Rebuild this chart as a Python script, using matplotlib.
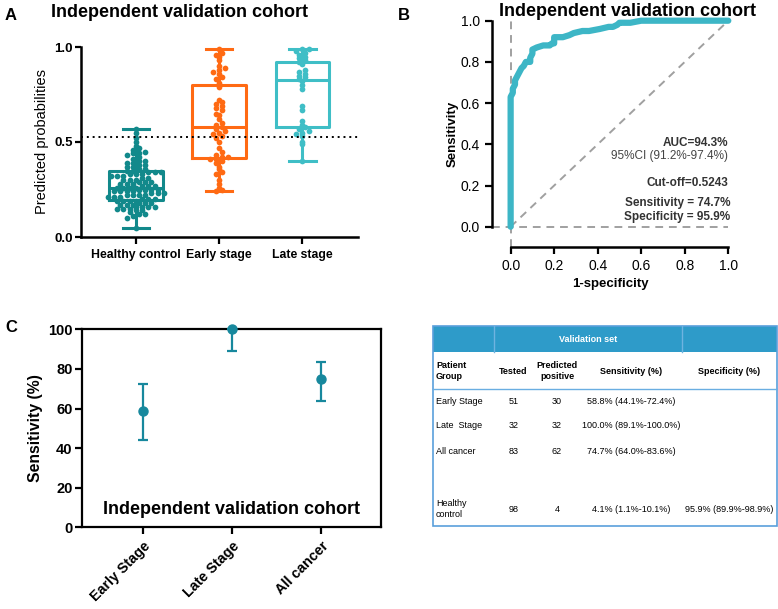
import numpy as np
import matplotlib
matplotlib.use("Agg")
import matplotlib.pyplot as plt
from matplotlib.patches import Rectangle

plt.rcParams['font.family'] = ['Liberation Sans', 'DejaVu Sans']

# panel A - predicted probabilities per group
groups = ["Healthy control", "Early stage", "Late stage"]
healthy = [0.05, 0.10, 0.11, 0.12, 0.12, 0.13, 0.14, 0.14, 0.15, 0.15, 0.15, 0.16, 0.16, 0.16, 0.16,
           0.17, 0.17, 0.17, 0.18, 0.18, 0.18, 0.19, 0.19, 0.19, 0.19,
           0.20, 0.20, 0.20, 0.21, 0.21, 0.21, 0.22, 0.22, 0.22, 0.22, 0.23, 0.23, 0.23, 0.24, 0.24,
           0.24, 0.24, 0.25, 0.25, 0.25, 0.25, 0.26, 0.26, 0.26,
           0.26, 0.27, 0.27, 0.27, 0.28, 0.28, 0.28, 0.29, 0.29, 0.29, 0.30, 0.30, 0.30, 0.31, 0.31,
           0.32, 0.32, 0.32, 0.33, 0.33, 0.33, 0.34, 0.34, 0.34,
           0.35, 0.35, 0.36, 0.36, 0.37, 0.37, 0.38, 0.38, 0.39, 0.39, 0.40, 0.40, 0.41, 0.42, 0.43,
           0.44, 0.44, 0.45, 0.46, 0.47, 0.48, 0.50, 0.52, 0.55, 0.57]
early = [0.24, 0.25, 0.26, 0.28, 0.30, 0.33, 0.34, 0.36, 0.37, 0.39, 0.40, 0.41, 0.41,
         0.42, 0.42, 0.43, 0.45, 0.47, 0.50, 0.52, 0.53, 0.54, 0.55, 0.56, 0.57,
         0.58,
         0.59, 0.60, 0.62, 0.64, 0.65, 0.67, 0.68, 0.69, 0.70, 0.71, 0.72, 0.79,
         0.81, 0.83, 0.84, 0.86, 0.87, 0.88, 0.89, 0.90, 0.93, 0.95, 0.96, 0.97, 0.99]
late = [0.40, 0.49, 0.50, 0.53, 0.54, 0.55, 0.56, 0.57, 0.58, 0.59, 0.61, 0.67, 0.69, 0.78, 0.80, 0.82,
        0.83, 0.84, 0.85, 0.86, 0.87, 0.88, 0.91, 0.92, 0.93, 0.94, 0.95, 0.96, 0.97, 0.98, 0.99, 0.99]
cutoff = 0.5243
group_colors = ["#12898b", "#ff6a13", "#3fbec6"]

# panel B - ROC curve
fpr = [0.0, 0.0, 0.01, 0.01, 0.02, 0.02, 0.03, 0.04, 0.05, 0.06, 0.07, 0.09, 0.09, 0.10, 0.10,
       0.12, 0.15, 0.18, 0.19, 0.20, 0.20, 0.24, 0.27, 0.29, 0.33, 0.36, 0.41, 0.45, 0.47, 0.49, 0.50,
       0.55, 0.60, 0.62, 0.80, 1.0]
tpr = [0.0, 0.63, 0.65, 0.67, 0.69, 0.71, 0.73, 0.75, 0.77, 0.78, 0.80, 0.80, 0.82, 0.84, 0.86,
       0.87, 0.88, 0.88, 0.89, 0.89, 0.92, 0.92, 0.93, 0.94, 0.95, 0.95, 0.96, 0.97, 0.97, 0.98, 0.99,
       0.99, 1.0, 1.0, 1.0, 1.0]

# panel C - sensitivity with 95% CI
stages = ["Early Stage", "Late Stage", "All cancer"]
sens = [58.8, 100.0, 74.7]
sens_lo = [44.1, 89.1, 64.0]
sens_hi = [72.4, 100.0, 83.6]

# table
col_names = ["Patient\nGroup", "Tested", "Predicted\npositive", "Sensitivity (%)", "Specificity (%)"]
rows = [
    ["Early Stage", "51", "30", "58.8% (44.1%-72.4%)", ""],
    ["Late  Stage", "32", "32", "100.0% (89.1%-100.0%)", ""],
    ["All cancer", "83", "62", "74.7% (64.0%-83.6%)", ""],
    ["Healthy\ncontrol", "98", "4", "4.1% (1.1%-10.1%)", "95.9% (89.9%-98.9%)"],
]

title = "Independent validation cohort"


def swarm_x(values, center, dy=0.022, dx=0.075):
    v = np.asarray(values)
    bins = np.round(v / dy).astype(int)
    xs = np.zeros(len(v))
    for b in np.unique(bins):
        idx = np.where(bins == b)[0]
        n = len(idx)
        xs[idx] = center + (np.arange(n) - (n - 1) / 2) * dx
    return xs


fig = plt.figure(figsize=(7.78, 6.09), dpi=100)

# overlay for panel letters, titles and the table
ov = fig.add_axes([0, 0, 1, 1])
ov.set_xlim(0, 778)
ov.set_ylim(609, 0)
ov.axis('off')
for letter, (lx, ly) in zip("ABC", [(5, 16), (398, 16), (5, 328)]):
    ov.text(lx, ly, letter, fontsize=12, fontweight='bold', va='center')
ov.text(179.5, 12.5, title, fontsize=13, fontweight='bold', ha='center', va='center')
ov.text(627.5, 12, title, fontsize=13, fontweight='bold', ha='center', va='center')

# ---------- A ----------
axA = fig.add_axes([81 / 778, 1 - 237 / 609, 277 / 778, 190 / 609])
data = [healthy, early, late]
bp = axA.boxplot(data, positions=[0, 1, 2], widths=0.64, whis=(0, 100), showfliers=False)
for i, c in enumerate(group_colors):
    for key in ["boxes", "medians"]:
        bp[key][i].set(color=c, linewidth=2.2)
    for j in (2 * i, 2 * i + 1):
        bp["whiskers"][j].set(color=c, linewidth=2.2)
        bp["caps"][j].set(color=c, linewidth=2.2)
    axA.scatter(swarm_x(data[i], i), data[i], s=17, color=c, zorder=3, clip_on=False, linewidths=0)
axA.axhline(cutoff, ls=(0, (1, 2)), color='black', lw=1.4, zorder=4)
axA.set_xlim(-0.66, 2.67)
axA.set_ylim(0, 1.0)
axA.set_yticks([0, 0.5, 1.0])
axA.set_yticklabels(["0.0", "0.5", "1.0"])
axA.set_xticks([0, 1, 2])
axA.set_xticklabels(groups)
axA.spines[['top', 'right']].set_visible(False)
axA.spines[['left', 'bottom']].set_linewidth(1.8)
axA.tick_params(width=1.6, length=5)
axA.tick_params(axis='y', labelsize=9.5, length=4, pad=2)
axA.tick_params(axis='x', labelsize=8.8)
for t in axA.get_xticklabels() + axA.get_yticklabels():
    t.set_fontweight('bold')
axA.set_ylabel("Predicted probabilities", fontsize=10.5, labelpad=4)

# ---------- B ----------
axB = fig.add_axes([491.7 / 778, 1 - 246.7 / 609, 236.6 / 778, 226 / 609])
axB.plot([0, 1], [0, 1], ls=(0, (4, 3)), color='#a0a0a0', lw=1.4)
axB.axhline(0, ls=(0, (4, 3)), color='#a0a0a0', lw=1.4)
axB.axvline(0, ls=(0, (4, 3)), color='#a0a0a0', lw=1.4)
axB.plot(fpr, tpr, color='#3db6c6', lw=4.5, solid_joinstyle='round', solid_capstyle='round',
         clip_on=False, zorder=3)
axB.set_xlim(-0.087, 1.0)
axB.set_ylim(-0.097, 1.0)
axB.spines[['top', 'right']].set_visible(False)
axB.spines['left'].set_bounds(0, 1)
axB.spines['bottom'].set_bounds(0, 1)
axB.spines[['left', 'bottom']].set_linewidth(1.8)
axB.set_xticks(np.arange(0, 1.01, 0.2))
axB.set_yticks(np.arange(0, 1.01, 0.2))
axB.xaxis.set_major_formatter(plt.FormatStrFormatter('%.1f'))
axB.yaxis.set_major_formatter(plt.FormatStrFormatter('%.1f'))
axB.tick_params(width=1.6, length=5, labelsize=10)
axB.set_xlabel("1-specificity", fontsize=9.5, fontweight='bold')
axB.set_ylabel("Sensitivity", fontsize=9.5, fontweight='bold', labelpad=1)
axB.text(1.0, 0.405, "AUC=94.3%", ha='right', va='center', fontsize=8.5, fontweight='bold', color='#333333')
axB.text(1.0, 0.345, "95%CI (91.2%-97.4%)", ha='right', va='center', fontsize=8.5, color='#444444')
axB.text(1.0, 0.214, "Cut-off=0.5243", ha='right', va='center', fontsize=8.5, fontweight='bold', color='#333333')
axB.text(1.01, 0.117, "Sensitivity = 74.7%", ha='right', va='center', fontsize=8.5, fontweight='bold', color='#333333')
axB.text(1.01, 0.049, "Specificity = 95.9%", ha='right', va='center', fontsize=8.5, fontweight='bold', color='#333333')

# ---------- C ----------
axC = fig.add_axes([82.3 / 778, 1 - 527.3 / 609, 298.7 / 778, 198 / 609])
xc = np.arange(len(stages))
err = [np.array(sens) - np.array(sens_lo), np.array(sens_hi) - np.array(sens)]
axC.errorbar(xc, sens, yerr=err, fmt='o', color='#17889d', ms=6.5, elinewidth=1.6,
             capsize=3.3, capthick=1.6, clip_on=False, zorder=3)
axC.set_xlim(-0.685, 2.67)
axC.set_ylim(0, 100)
axC.set_yticks(range(0, 101, 20))
axC.set_xticks(xc)
axC.set_xticklabels(stages, rotation=45, ha='right', rotation_mode='anchor')
for s in axC.spines.values():
    s.set_linewidth(1.6)
axC.tick_params(width=1.6, length=5)
axC.tick_params(axis='y', labelsize=10.5, pad=2)
axC.tick_params(axis='x', labelsize=10.3)
for t in axC.get_xticklabels() + axC.get_yticklabels():
    t.set_fontweight('bold')
axC.set_ylabel("Sensitivity (%)", fontsize=11.3, fontweight='bold', labelpad=4)
axC.text(0.5, 0.09, title, transform=axC.transAxes, ha='center', va='center',
         fontsize=13, fontweight='bold')

# ---------- table ----------
tx0, tx1, ty0, ty1 = 433.5, 777, 326, 526
ov.add_patch(Rectangle((tx0, ty0), tx1 - tx0, 25.7, facecolor='#2e9bc9', edgecolor='none'))
ov.add_patch(Rectangle((tx0, ty0), tx1 - tx0, ty1 - ty0, facecolor='none', edgecolor='#5a9fdb', lw=1.2))
for vx in (494.3, 681.7):
    ov.plot([vx, vx], [ty0, ty0 + 25.7], color='#6fb3e0', lw=1.0)
ov.plot([tx0, tx1], [389, 389], color='#6aaee2', lw=1.0)
ov.text(587.7, 339.5, "Validation set", color='white', fontsize=6.5, fontweight='bold',
        ha='center', va='center')
col_x = [436, 513.5, 557, 631, 729]
col_ha = ['left', 'center', 'center', 'center', 'center']
for name, cx, ha in zip(col_names, col_x, col_ha):
    ov.text(cx, 371, name, fontsize=6.5, fontweight='bold', ha=ha, va='center', linespacing=1.2)
row_y = [401.7, 425, 451.7, 509]
for row, ry in zip(rows, row_y):
    for val, cx, ha in zip(row, col_x, col_ha):
        ov.text(cx, ry, val, fontsize=6.5, ha=ha, va='center', linespacing=1.2)

fig.savefig("out.png", dpi=100)
